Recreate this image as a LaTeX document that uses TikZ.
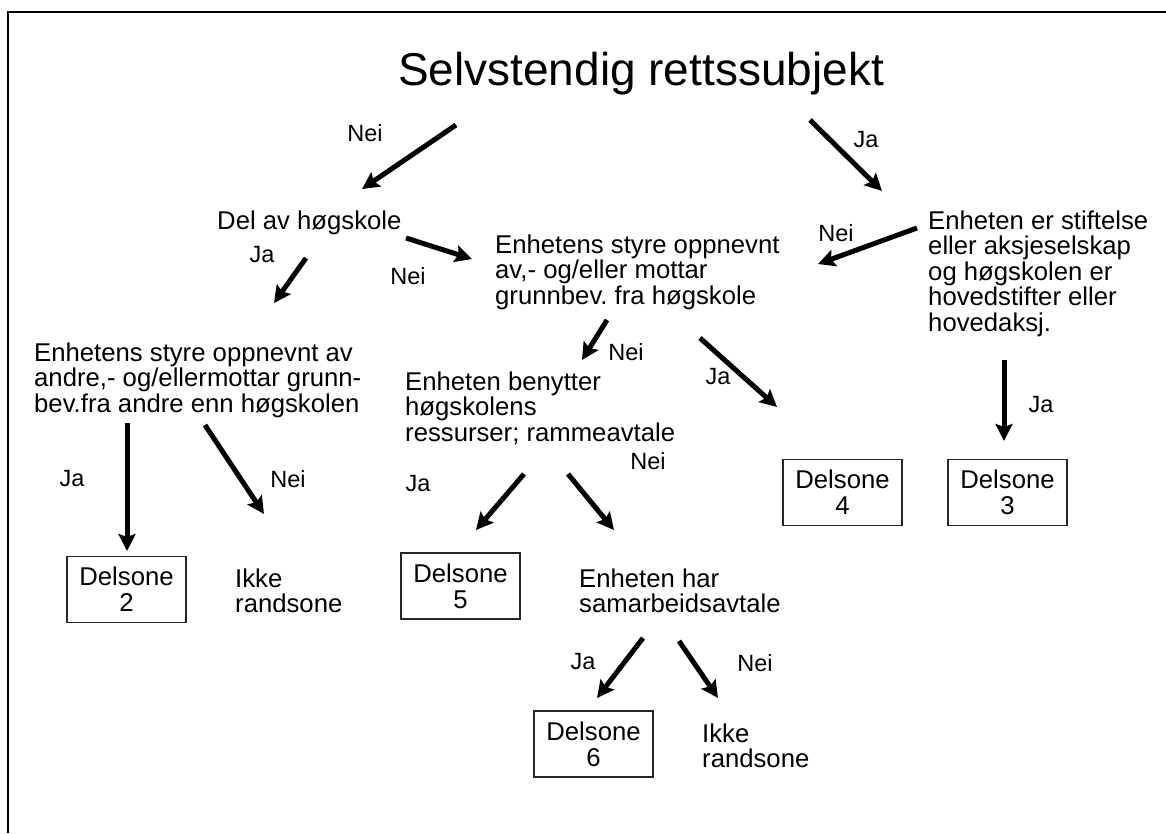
\documentclass[tikz,border=0pt]{standalone}
\usepackage{fontspec}
\setmainfont{Liberation Sans}
\usetikzlibrary{arrows.meta}
\frenchspacing
\begin{document}
\begin{tikzpicture}[x=1pt,y=-1pt,
  txt/.style={anchor=north west, inner sep=0pt, align=left, font=\fontsize{25.7}{25.5}\selectfont},
  lbl/.style={inner sep=0pt, font=\fontsize{23.5}{25}\selectfont},
  dbox/.style={draw=black!85, line width=1.5pt, minimum width=119pt, minimum height=66pt, inner sep=0pt, align=center, font=\fontsize{25.7}{26}\selectfont},
  arr/.style={line width=5pt, -{Stealth[length=17pt,width=17pt,inset=3pt]}},
  frame/.style={line width=2pt}
]
\useasboundingbox (0,0) rectangle (1166,833);
\coordinate (fb) at (8,833);
\coordinate (ftl) at (8,12);
\coordinate (fr) at (1166,12);
\draw[frame] (fb) -- (ftl) -- (fr);

% texts
\node[anchor=base, inner sep=0pt, font=\fontsize{46}{50}\selectfont] (title) at (641,85) {Selvstendig rettssubjekt};
\node[txt, anchor=base west] (del) at (217,229) {Del av høgskole};
\node[txt] (enh1) at (495,234.6) {Enhetens styre oppnevnt\\av,- og/eller mottar\\grunnbev. fra høgskole};
\node[txt] (stift) at (928,210.6) {Enheten er stiftelse\\eller aksjeselskap\\og høgskolen er\\hovedstifter eller\\hovedaksj.};
\node[txt] (andre) at (34,342.6) {Enhetens styre oppnevnt av\\andre,- og/ellermottar grunn-\\bev.fra andre enn høgskolen};
\node[txt] (benytter) at (405,371.6) {Enheten benytter\\høgskolens\\ressurser; rammeavtale};
\node[txt] (ikke1) at (235,568.6) {Ikke\\randsone};
\node[txt] (har) at (579,568.6) {Enheten har\\samarbeidsavtale};
\node[txt] (ikke2) at (702,723.6) {Ikke\\randsone};

% boxes
\node[dbox] (d4) at (842.5,492.5) {Delsone\\4};
\node[dbox] (d3) at (1007.5,492.5) {Delsone\\3};
\node[dbox] (d2) at (126.5,589.5) {Delsone\\2};
\node[dbox] (d5) at (460.5,586) {Delsone\\5};
\node[dbox] (d6) at (593.5,744) {Delsone\\6};

% labels
\node[lbl] (l1) at (365,133) {Nei};
\node[lbl] (l2) at (866,140) {Ja};
\node[lbl] (l3) at (262,255) {Ja};
\node[lbl] (l4) at (408,276) {Nei};
\node[lbl] (l5) at (836,233) {Nei};
\node[lbl] (l6) at (626,352) {Nei};
\node[lbl] (l7) at (718,377) {Ja};
\node[lbl] (l8) at (1041,405) {Ja};
\node[lbl] (l9) at (72,479) {Ja};
\node[lbl] (l10) at (288,479) {Nei};
\node[lbl] (l11) at (418,484) {Ja};
\node[lbl] (l12) at (648,461) {Nei};
\node[lbl] (l13) at (583,662) {Ja};
\node[lbl] (l14) at (755,663) {Nei};

% arrow ends
\coordinate (a1s) at (456,125);  \coordinate (a1e) at (362,189);
\coordinate (a2s) at (810,120);  \coordinate (a2e) at (882,191);
\coordinate (a3s) at (406,238);  \coordinate (a3e) at (472,259);
\coordinate (a4s) at (917,228);  \coordinate (a4e) at (818,264);
\coordinate (a5s) at (306,258);  \coordinate (a5e) at (274,303);
\coordinate (a6s) at (607,320);  \coordinate (a6e) at (582,360);
\coordinate (a7s) at (700,338);  \coordinate (a7e) at (777,407);
\coordinate (a8s) at (1004,360); \coordinate (a8e) at (1004,441);
\coordinate (a9s) at (127,423);  \coordinate (a9e) at (127,551);
\coordinate (a10s) at (205,425); \coordinate (a10e) at (264,514);
\coordinate (a11s) at (524,474); \coordinate (a11e) at (476,530);
\coordinate (a12s) at (568,474); \coordinate (a12e) at (614,530);
\coordinate (a13s) at (643,638); \coordinate (a13e) at (597,698);
\coordinate (a14s) at (679,641); \coordinate (a14e) at (718,698);

\foreach \i in {1,...,14} {\draw[arr] (a\i s) -- (a\i e);}
\end{tikzpicture}
\end{document}
